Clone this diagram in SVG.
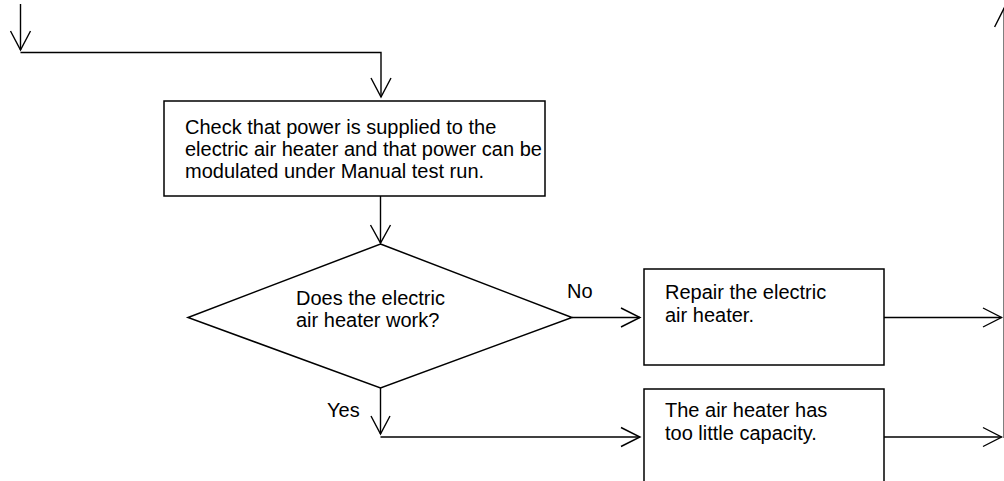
<svg xmlns="http://www.w3.org/2000/svg" width="1004" height="481" viewBox="0 0 1004 481">
<style>
.box{fill:#fff;stroke:#000;stroke-width:1.5}
.ln{fill:none;stroke:#000;stroke-width:1.4}
.hd{fill:none;stroke:#000;stroke-width:1.4}
text{font-family:"Liberation Sans",Arial,sans-serif;font-size:20px;fill:#000}
</style>
<rect width="1004" height="481" fill="#fff"/>
<g id="connectors">
<path class="ln" d="M20.5 4 V50"/>
<path class="hd" d="M10.5 31 L20.5 50 L30.5 31"/>
<path class="ln" d="M20.5 52.5 H381 V97"/>
<path class="hd" d="M371 78 L381 97 L391 78"/>
<path class="ln" d="M380.5 196 V243"/>
<path class="hd" d="M370.5 225 L380.5 243 L390.5 225"/>
<path class="ln" d="M572 317.5 H640"/>
<path class="hd" d="M621 308 L640 317.5 L621 327"/>
<text x="567" y="298">No</text>
<path class="ln" d="M380.5 388 V434"/>
<path class="hd" d="M371 416 L380.5 434 L390 416"/>
<text x="327" y="417">Yes</text>
<path class="ln" d="M380.5 437 H640"/>
<path class="hd" d="M621 427.5 L640 437 L621 446.5"/>
<path class="ln" d="M884 317.5 H1001.5"/>
<path class="hd" d="M983 308 L1001.5 317.5 L983 327"/>
<path class="ln" d="M884 437 H1001.5"/>
<path class="hd" d="M983 427.5 L1001.5 437 L983 446.5"/>
<path class="ln" d="M1004.2 438 V8"/>
<path class="hd" d="M994.6 27 L1004.2 8 L1013.8 27"/>
</g>
<g id="check">
<rect class="box" x="164" y="101" width="381" height="95"/>
<text x="185" y="134">Check that power is supplied to the</text>
<text x="185" y="156">electric air heater and that power can be</text>
<text x="185" y="178">modulated under Manual test run.</text>
</g>
<g id="decision">
<polygon class="box" points="380.5,244 572,317.5 380.5,388 188,317.5"/>
<text x="296" y="305">Does the electric</text>
<text x="296" y="327">air heater work?</text>
</g>
<g id="repair">
<rect class="box" x="644" y="269" width="240" height="96"/>
<text x="665" y="299">Repair the electric</text>
<text x="665" y="322">air heater.</text>
</g>
<g id="capacity">
<rect class="box" x="644" y="389" width="240" height="100"/>
<text x="665" y="417">The air heater has</text>
<text x="665" y="440">too little capacity.</text>
</g>
</svg>
